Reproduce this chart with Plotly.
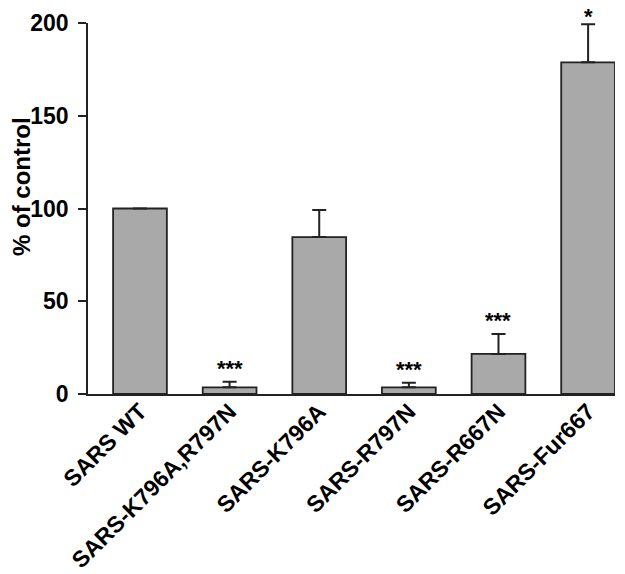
import plotly.graph_objects as go

categories = ["SARS WT", "SARS-K796A,R797N", "SARS-K796A", "SARS-R797N", "SARS-R667N", "SARS-Fur667"]
values = [100, 3.6, 84.6, 3.6, 21.6, 178.8]
errors = [0, 3.0, 14.6, 2.5, 10.7, 20.5]
significance = ["", "***", "", "***", "***", "*"]
y_ticks = [0, 50, 100, 150, 200]

# the page body adds an 8 px offset; compensate in the figure size/margins
W, H = 617, 566
ML, MT, MR = 80, 15, 10
PLOT_H = 371
MB = H - MT - PLOT_H

fig = go.Figure()
fig.add_trace(go.Bar(
    x=categories, y=values, width=0.6,
    marker=dict(color="#a9a9a9", line=dict(color="#222222", width=1.8)),
    error_y=dict(type="data", array=errors, symmetric=False, arrayminus=[0]*len(errors),
                 color="#222222", thickness=2, width=7, visible=True),
))

for c, v, e, s in zip(categories, values, errors, significance):
    if s:
        fig.add_annotation(x=c, y=v + e, text=s, showarrow=False, yanchor="bottom",
                           yshift=-1 if len(s) > 1 else -7,
                           font=dict(family="Liberation Sans", size=22, color="black",
                                     weight="bold"))

fig.add_annotation(text="<b>% of control</b>", xref="paper", yref="paper", x=0, y=0.558,
                   xanchor="center", yanchor="middle", xshift=-66, textangle=-90, showarrow=False,
                   font=dict(family="Liberation Sans", size=24, color="black"))

fig.update_layout(
    width=W, height=H,
    margin=dict(l=ML, r=MR, t=MT, b=MB),
    paper_bgcolor="white", plot_bgcolor="white",
    showlegend=False,
    font=dict(family="Liberation Sans", color="black"),
    xaxis=dict(range=[-0.58, 5.3], tickangle=-45, showline=True, linecolor="#222222", linewidth=1.8,
               ticks="", automargin=False, ticklabelstandoff=-7,
               tickfont=dict(size=23, family="Liberation Sans", weight="bold")),
    yaxis=dict(range=[0, 200], tickvals=y_ticks, showline=True, linecolor="#222222", linewidth=1.8,
               ticks="outside", ticklen=8, tickwidth=1.8, tickcolor="#222222", showgrid=False,
               zeroline=False, automargin=False, ticklabelstandoff=5,
               tickfont=dict(size=23, family="Liberation Sans", weight="bold")),
)
fig.write_html("out.html", config={"displayModeBar": False})
